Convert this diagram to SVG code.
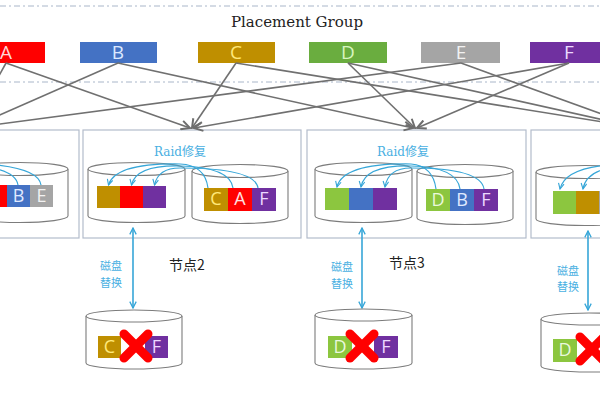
<svg xmlns="http://www.w3.org/2000/svg" width="600" height="400" viewBox="0 0 600 400">
<defs>
<style>
.dash{stroke:#a9b6c9;stroke-width:1;stroke-dasharray:6 3 2 3;fill:none}
.pg text,.blk text{font-family:"Open Sans","Noto Sans",sans-serif;text-anchor:middle}
.pg text{font-size:19px}
.blk text{font-size:18px}
.nodebox{fill:#fff;stroke:#b3bccb;stroke-width:1.2}
.cyl{fill:#fff;stroke:#7c7c7c;stroke-width:1.1}
.raid{font-family:"DejaVu Serif","Noto Sans CJK SC",serif;font-size:12px;fill:#4ab0e2;text-anchor:middle}
.swap{font-family:"Noto Sans CJK SC","Noto Sans",sans-serif;font-size:11px;fill:#4ab0e2;text-anchor:middle}
.lbl{font-family:"Noto Sans CJK SC","Noto Sans",sans-serif;font-size:14px;fill:#222;text-anchor:middle}
.curve{fill:none;stroke:#36a6d8;stroke-width:1.2;marker-end:url(#ba)}
.vert{stroke:#36a6d8;stroke-width:1.6;marker-end:url(#bv);marker-start:url(#bv)}
.xm{stroke:#ff0000;stroke-width:9;stroke-linecap:round}
</style>
<marker id="ga" viewBox="0 0 10 10" refX="9" refY="5" markerWidth="11" markerHeight="11" markerUnits="userSpaceOnUse" orient="auto"><path d="M1,1 L9,5 L1,9" fill="none" stroke="#6e6e6e" stroke-width="1.8"/></marker>
<marker id="ba" viewBox="0 0 10 10" refX="9" refY="5" markerWidth="7" markerHeight="7" markerUnits="userSpaceOnUse" orient="auto"><path d="M1,1 L9,5 L1,9" fill="none" stroke="#36a6d8" stroke-width="1.6"/></marker>
<marker id="bv" viewBox="0 0 10 10" refX="9" refY="5" markerWidth="8" markerHeight="8" markerUnits="userSpaceOnUse" orient="auto-start-reverse"><path d="M1,1 L9,5 L1,9" fill="none" stroke="#36a6d8" stroke-width="1.6"/></marker>
</defs>
<rect width="600" height="400" fill="#fff"/>
<line class="dash" x1="0" y1="6" x2="600" y2="6"/>
<line class="dash" x1="0" y1="82" x2="600" y2="82"/>
<text x="297" y="27" font-family="DejaVu Serif,serif" font-size="15" fill="#222" text-anchor="middle">Placement Group</text>

<g id="pg" class="pg">
<g id="pgA"><rect x="-32" y="42" width="77" height="21" fill="#ff0000"/><text x="6" y="59" fill="#ffd6d6">A</text></g>
<g id="pgB"><rect x="80" y="42" width="77" height="21" fill="#4472c4"/><text x="118" y="59" fill="#dce8ff">B</text></g>
<g id="pgC"><rect x="198" y="42" width="77" height="21" fill="#bf8f00"/><text x="236" y="59" fill="#ffe97a">C</text></g>
<g id="pgD"><rect x="309" y="42" width="78" height="21" fill="#6aad3f"/><text x="348" y="59" fill="#d8f5c0">D</text></g>
<g id="pgE"><rect x="421" y="42" width="79" height="21" fill="#a5a5a5"/><text x="461" y="59" fill="#f2f2f2">E</text></g>
<g id="pgF"><rect x="530" y="42" width="78" height="21" fill="#7030a0"/><text x="569" y="59" fill="#ecd8ff">F</text></g>
</g>

<g id="node1">
<rect class="nodebox" x="-140" y="130" width="219" height="108"/>
<path class="cyl" d="M-28,169 L-28,216 A48,6.5 0 0 0 68,216 L68,169"/>
<ellipse class="cyl" cx="20" cy="169" rx="48" ry="6.5"/>
<g class="blk">
<rect x="-16" y="185" width="23" height="22" fill="#ff0000"/>
<rect x="7" y="185" width="23" height="22" fill="#4472c4"/><text x="18.5" y="202" fill="#e0eaff">B</text>
<rect x="30" y="185" width="23" height="22" fill="#a5a5a5"/><text x="41.5" y="202" fill="#f2f2f2">E</text>
</g>
<path class="curve" d="M41,185 Q38,164 -40,163 Q-100,163 -106,185"/>
<path class="curve" d="M18,185 Q15,166 -40,165 Q-78,165 -82,185"/>
<path class="curve" d="M-5,185 Q-7,168 -40,167 Q-56,167 -58,185"/>
</g>

<g id="node2">
<rect class="nodebox" x="83" y="130" width="218" height="108"/>
<text class="raid" x="180" y="156">Raid修复</text>
<path class="cyl" d="M88,169 L88,216 A48.5,6.5 0 0 0 185,216 L185,169"/>
<ellipse class="cyl" cx="136.5" cy="169" rx="48.5" ry="6.5"/>
<path class="cyl" d="M192,171 L192,217 A48,6.5 0 0 0 288,217 L288,171"/>
<ellipse class="cyl" cx="240" cy="171" rx="48" ry="6.5"/>
<g class="blk">
<rect x="97" y="186" width="23" height="22" fill="#bf8f00"/>
<rect x="120" y="186" width="23" height="22" fill="#ff0000"/>
<rect x="143" y="186" width="23" height="22" fill="#7030a0"/>
<rect x="204" y="188" width="24" height="23" fill="#bf8f00"/><text x="216" y="205" fill="#ffe97a">C</text>
<rect x="228" y="188" width="24" height="23" fill="#ff0000"/><text x="240" y="205" fill="#ffe0e0">A</text>
<rect x="252" y="188" width="24" height="23" fill="#7030a0"/><text x="264" y="205" fill="#ecd8ff">F</text>
</g>
<path class="curve" d="M208,188 Q205,165 180,164 Q115,163 108.5,185"/>
<path class="curve" d="M233,188 Q230,167 180,166 Q136,165 131.5,185"/>
<path class="curve" d="M258,188 Q255,168 180,168 Q158,168 154.5,185"/>
<line class="vert" x1="133" y1="228" x2="133" y2="308"/>
<text class="swap" x="111" y="270">磁盘</text>
<text class="swap" x="111" y="287">替换</text>
<text class="lbl" x="187" y="270">节点2</text>
<path class="cyl" d="M86,316 L86,363 A48,6 0 0 0 182,363 L182,316"/>
<ellipse class="cyl" cx="134" cy="316" rx="48" ry="6"/>
<g class="blk">
<rect x="98" y="336" width="23" height="22" fill="#bf8f00"/><text x="109.5" y="353" fill="#ffe97a">C</text>
<rect x="145" y="336" width="23" height="22" fill="#7030a0"/><text x="156.5" y="353" fill="#ecd8ff">F</text>
</g>
<line class="xm" x1="124" y1="334" x2="148" y2="358"/>
<line class="xm" x1="148" y1="334" x2="124" y2="358"/>
</g>

<g id="node3">
<rect class="nodebox" x="307" y="130" width="219" height="108"/>
<text class="raid" x="403" y="156">Raid修复</text>
<path class="cyl" d="M315,169 L315,216 A48.5,6.5 0 0 0 412,216 L412,169"/>
<ellipse class="cyl" cx="363.5" cy="169" rx="48.5" ry="6.5"/>
<path class="cyl" d="M417,171 L417,218 A48,6.5 0 0 0 513,218 L513,171"/>
<ellipse class="cyl" cx="465" cy="171" rx="48" ry="6.5"/>
<g class="blk">
<rect x="325" y="188" width="24" height="22" fill="#8cc63f"/>
<rect x="349" y="188" width="24" height="22" fill="#4472c4"/>
<rect x="373" y="188" width="24" height="22" fill="#7030a0"/>
<rect x="426" y="189" width="24" height="22" fill="#8cc63f"/><text x="438" y="206" fill="#eaf8dc">D</text>
<rect x="450" y="189" width="24" height="22" fill="#4472c4"/><text x="462" y="206" fill="#e0eaff">B</text>
<rect x="474" y="189" width="24" height="22" fill="#7030a0"/><text x="486" y="206" fill="#ecd8ff">F</text>
</g>
<path class="curve" d="M436,189 Q433,166 411,164 Q343,163 337,187"/>
<path class="curve" d="M460,189 Q457,167 411,166 Q365,165 361,187"/>
<path class="curve" d="M484,189 Q481,168 411,168 Q388,168 385,187"/>
<line class="vert" x1="362" y1="228" x2="362" y2="308"/>
<text class="swap" x="342" y="271">磁盘</text>
<text class="swap" x="342" y="288">替换</text>
<text class="lbl" x="407" y="268">节点3</text>
<path class="cyl" d="M315,315 L315,363 A48.5,6 0 0 0 412,363 L412,315"/>
<ellipse class="cyl" cx="363.5" cy="315" rx="48.5" ry="6"/>
<g class="blk">
<rect x="328" y="336" width="24" height="22" fill="#8cc63f"/><text x="340" y="353" fill="#eaf8dc">D</text>
<rect x="374" y="336" width="24" height="22" fill="#7030a0"/><text x="386" y="353" fill="#ecd8ff">F</text>
</g>
<line class="xm" x1="350" y1="334" x2="374" y2="358"/>
<line class="xm" x1="374" y1="334" x2="350" y2="358"/>
</g>

<g id="node4">
<rect class="nodebox" x="531" y="130" width="219" height="108"/>
<text class="raid" x="626" y="157">Raid修复</text>
<path class="cyl" d="M536,172 L536,219 A49,6.5 0 0 0 634,219 L634,172"/>
<ellipse class="cyl" cx="585" cy="172" rx="49" ry="6.5"/>
<g class="blk">
<rect x="553" y="191" width="23" height="23" fill="#8cc63f"/>
<rect x="576" y="191" width="23" height="23" fill="#bf8f00"/>
<rect x="599" y="191" width="23" height="23" fill="#a5a5a5"/>
</g>
<path class="curve" d="M660,191 Q657,166 637,164 Q566,163 560,189"/>
<path class="curve" d="M684,191 Q681,167 637,166 Q587,165 583,189"/>
<path class="curve" d="M708,191 Q705,168 637,168 Q610,168 606,189"/>
<line class="vert" x1="588" y1="231" x2="588" y2="310"/>
<text class="swap" x="568" y="275">磁盘</text>
<text class="swap" x="568" y="291">替换</text>
<path class="cyl" d="M541,319 L541,366 A48,6 0 0 0 637,366 L637,319"/>
<ellipse class="cyl" cx="589" cy="319" rx="48" ry="6"/>
<g class="blk">
<rect x="553" y="339" width="24" height="23" fill="#8cc63f"/><text x="565" y="356" fill="#eaf8dc">D</text>
</g>
<line class="xm" x1="580" y1="337" x2="604" y2="361"/>
<line class="xm" x1="604" y1="337" x2="580" y2="361"/>
</g>

<g id="connectors" fill="none" stroke="#707070" stroke-width="1.6" marker-end="url(#ga)">
<line x1="6" y1="63" x2="-30" y2="128"/>
<line x1="6" y1="63" x2="190" y2="128"/>
<line x1="118" y1="63" x2="-30" y2="128"/>
<line x1="118" y1="63" x2="413" y2="128"/>
<line x1="236" y1="63" x2="192" y2="128"/>
<line x1="236" y1="63" x2="640" y2="128"/>
<line x1="348" y1="63" x2="415" y2="128"/>
<line x1="348" y1="63" x2="640" y2="128"/>
<line x1="461" y1="63" x2="-30" y2="128"/>
<line x1="461" y1="63" x2="640" y2="128"/>
<line x1="569" y1="63" x2="194" y2="128"/>
<line x1="569" y1="63" x2="417" y2="128"/>
</g>
</svg>
